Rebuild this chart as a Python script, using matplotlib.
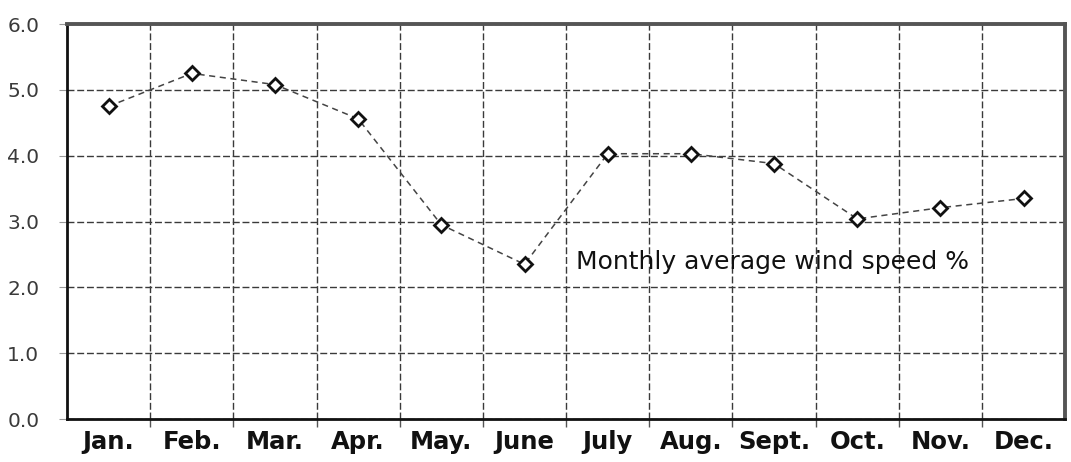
import matplotlib
matplotlib.use("Agg")
import matplotlib.pyplot as plt
import numpy as np

months = ["Jan.", "Feb.", "Mar.", "Apr.", "May.", "June", "July", "Aug.",
          "Sept.", "Oct.", "Nov.", "Dec."]
wind_speed = [4.75, 5.25, 5.08, 4.56, 2.95, 2.35, 4.03, 4.03, 3.88, 3.04, 3.21, 3.35]
y_ticks = [0.0, 1.0, 2.0, 3.0, 4.0, 5.0, 6.0]
series_label = "Monthly average wind speed %"

plt.rcParams['font.family'] = ['DejaVu Sans']

fig = plt.figure(figsize=(10.71, 4.62), dpi=100)
ax = fig.add_axes([0.0626, 0.093, 0.932, 0.855])

x = np.arange(len(months))
ax.plot(x, wind_speed, linestyle=(0, (4, 3)), color="#444444", linewidth=1.1,
        marker="D", markersize=7.5, markerfacecolor="white",
        markeredgecolor="#111111", markeredgewidth=2.0, zorder=3)

ax.set_xlim(-0.5, len(months) - 0.5)
ax.set_ylim(0, 6)
ax.set_yticks(y_ticks)
ax.set_yticklabels([f"{v:.1f}" for v in y_ticks], fontsize=14.5, color="#3a3a3a")
ax.set_xticks(x)
ax.set_xticklabels(months, fontsize=17.5, fontweight="bold", color="#111111")
ax.set_xticks(np.arange(0.5, len(months) - 1, 1.0), minor=True)

ax.tick_params(axis="x", which="major", length=0, pad=8)
ax.tick_params(axis="x", which="minor", length=6, color="#555555", width=1)
ax.tick_params(axis="y", which="major", length=6, color="#999999", pad=14)

grid_style = dict(linestyle=(0, (5, 2)), color="#3a3a3a", linewidth=1.0)
ax.grid(True, axis="y", which="major", **grid_style)
ax.grid(True, axis="x", which="minor", **grid_style)

for side in ("left", "bottom"):
    ax.spines[side].set_color("#111111")
    ax.spines[side].set_linewidth(2.0)
for side in ("top", "right"):
    ax.spines[side].set_color("#555555")
    ax.spines[side].set_linewidth(2.8)

ax.text(5.62, 2.39, series_label, fontsize=18, color="#111111",
        va="center", ha="left")

fig.savefig("out.png", dpi=100)
